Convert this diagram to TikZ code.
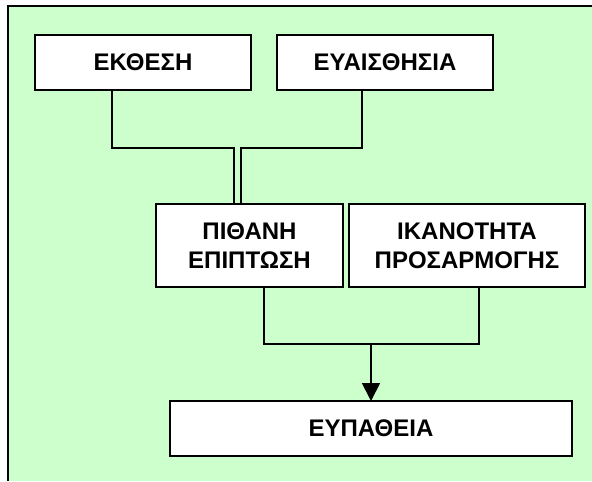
\documentclass[tikz,border=0pt]{standalone}
\usepackage{fontspec}
\setmainfont{Liberation Sans}
\usepackage{xcolor}
\usepackage{tikz}
\usetikzlibrary{arrows.meta, positioning}
\definecolor{paleGreen}{HTML}{CCFFCC}

\begin{document}
\begin{tikzpicture}[x=0.5pt, y=-0.5pt,
  font=\fontsize{12pt}{14.5pt}\selectfont\bfseries,
  factor/.style={draw=black, fill=white, line width=0.9pt, align=center, inner sep=0pt, outer sep=0pt},
  wire/.style={draw=black, line width=0.9pt}
]
	\useasboundingbox (0,0) rectangle (592,481);
%------------- Frame
	\fill[white] (0,0) rectangle (592,481);
	\fill[paleGreen] (8,6) rectangle (592,481);
	\draw[line width=1pt] (8,481) -- (8,6) -- (592,6);

%------------- Boxes
	\node[factor, minimum width=108pt, minimum height=27.5pt] (Ekthesi) at (143, 62.5) {ΕΚΘΕΣΗ};
	\node[factor, minimum width=108pt, minimum height=27.5pt] (Euaisthisia) at (385, 62.5) {ΕΥΑΙΣΘΗΣΙΑ};
	\node[factor, minimum width=93.5pt, minimum height=41.5pt] (Pithani) at (249.5, 245.5) {ΠΙΘΑΝΗ\\ΕΠΙΠΤΩΣΗ};
	\node[factor, minimum width=118pt, minimum height=41.5pt] (Ikanotita) at (467, 245.5) {ΙΚΑΝΟΤΗΤΑ\\ΠΡΟΣΑΡΜΟΓΗΣ};
	\node[factor, minimum width=201pt, minimum height=27.5pt] (Eupatheia) at (371, 428.5) {ΕΥΠΑΘΕΙΑ};

%------------- Connectors
	\coordinate (Ek_Bend) at (112, 148);
	\coordinate (Eu_Bend) at (362, 148);
	\coordinate (Join) at (371, 344);

	\draw[wire] (Ekthesi.south -| Ek_Bend) -- (Ek_Bend) -| ([xshift=-7.75pt]Pithani.north);
	\draw[wire] (Euaisthisia.south -| Eu_Bend) -- (Eu_Bend) -| ([xshift=-4.25pt]Pithani.north);
	\draw[wire] ([xshift=7.25pt]Pithani.south) |- (Join) -| ([xshift=6pt]Ikanotita.south);
	\draw[wire, -{Triangle[width=9pt, length=9pt]}] (Join) -- (Eupatheia.north);

\end{tikzpicture}
\end{document}
